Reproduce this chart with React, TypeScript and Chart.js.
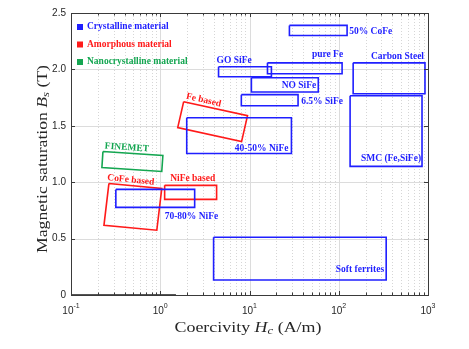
import React, { useEffect, useRef } from "react";
import { Chart, registerables } from "chart.js";
Chart.register(...registerables);

// ---- axis ticks ----
const xTickValues = [0.1, 1, 10, 100, 1000];
const xTickExponents = ["-1", "0", "1", "2", "3"];
const yTickValues = [0, 0.5, 1, 1.5, 2, 2.5];

// ---- legend ----
const legendLabels = ["Crystalline material", "Amorphous material", "Nanocrystalline material"];
const groupColors = ["#1f1fff", "#ff1a1a", "#14a651"];

// ---- regions: coercivity Hc (A/m) and saturation Bs (T) corners ----
// Crystalline
const coFe50Hc = [28, 124, 124, 28];
const coFe50Bs = [2.39, 2.39, 2.3, 2.3];
const goSiFeHc = [4.5, 17.6, 17.6, 4.5];
const goSiFeBs = [2.023, 2.023, 1.935, 1.935];
const pureFeHc = [15.9, 109, 109, 15.9];
const pureFeBs = [2.058, 2.058, 1.961, 1.961];
const carbonSteelHc = [145, 925, 925, 145];
const carbonSteelBs = [2.058, 2.058, 1.784, 1.784];
const noSiFeHc = [10.5, 59, 59, 10.5];
const noSiFeBs = [1.926, 1.926, 1.8, 1.8];
const siFe65Hc = [8.1, 35, 35, 8.1];
const siFe65Bs = [1.776, 1.776, 1.678, 1.678];
const smcHc = [134, 857, 857, 134];
const smcBs = [1.767, 1.767, 1.14, 1.14];
const niFe4050Hc = [1.98, 29.5, 29.5, 1.98];
const niFe4050Bs = [1.572, 1.572, 1.254, 1.254];
const niFe7080Hc = [0.318, 2.43, 2.43, 0.318];
const niFe7080Bs = [0.936, 0.936, 0.777, 0.777];
const softFerritesHc = [3.96, 340, 340, 3.96];
const softFerritesBs = [0.512, 0.512, 0.133, 0.133];
// Amorphous
const feBasedHc = [1.83, 9.5, 8.15, 1.57];
const feBasedBs = [1.714, 1.59, 1.36, 1.484];
const coFeBasedHc = [0.266, 1.04, 0.915, 0.234];
const coFeBasedBs = [0.989, 0.945, 0.574, 0.618];
const niFeBasedHc = [1.12, 4.28, 4.28, 1.12];
const niFeBasedBs = [0.972, 0.972, 0.848, 0.848];
// Nanocrystalline
const finemetHc = [0.228, 1.07, 1.04, 0.222];
const finemetBs = [1.272, 1.237, 1.095, 1.131];
// dark baseline segment along the bottom axis
const baselineHc = [0.1, 1.5];
const baselineBs = [0, 0];

const regions = [
  { hc: coFe50Hc, bs: coFe50Bs, group: 0 },
  { hc: goSiFeHc, bs: goSiFeBs, group: 0 },
  { hc: pureFeHc, bs: pureFeBs, group: 0 },
  { hc: carbonSteelHc, bs: carbonSteelBs, group: 0 },
  { hc: noSiFeHc, bs: noSiFeBs, group: 0 },
  { hc: siFe65Hc, bs: siFe65Bs, group: 0 },
  { hc: smcHc, bs: smcBs, group: 0 },
  { hc: niFe4050Hc, bs: niFe4050Bs, group: 0 },
  { hc: niFe7080Hc, bs: niFe7080Bs, group: 0 },
  { hc: softFerritesHc, bs: softFerritesBs, group: 0 },
  { hc: feBasedHc, bs: feBasedBs, group: 1 },
  { hc: coFeBasedHc, bs: coFeBasedBs, group: 1 },
  { hc: niFeBasedHc, bs: niFeBasedBs, group: 1 },
  { hc: finemetHc, bs: finemetBs, group: 2 },
];

// ---- region labels ----
const labelTexts = ["50% CoFe", "GO SiFe", "pure Fe", "Carbon Steel", "NO SiFe", "6.5% SiFe", "SMC (Fe,SiFe)", "40-50% NiFe", "70-80% NiFe", "Soft ferrites", "Fe based", "CoFe based", "NiFe based", "FINEMET"];
const labelHc = [131, 4.28, 112, 902, 56, 38, 836, 27.3, 1.12, 322, 3.06, 0.468, 2.31, 0.423];
const labelBs = [2.332, 2.076, 2.129, 2.111, 1.855, 1.714, 1.21, 1.299, 0.698, 0.23, 1.727, 1.02, 1.034, 1.307];
const labelAlign = ["left", "left", "right", "right", "right", "left", "right", "right", "left", "right", "center", "center", "center", "center"];
const labelAngle = [0, 0, 0, 0, 0, 0, 0, 0, 0, 0, 13, 6, 0, 4];
const labelGroup = [0, 0, 0, 0, 0, 0, 0, 0, 0, 0, 1, 1, 1, 2];

const SERIF = "'Liberation Serif', 'Times New Roman', serif";
const SANS = "'Liberation Sans', Arial, sans-serif";
const AXIS = "#262626";

function drawRich(ctx: CanvasRenderingContext2D, segs: any[], cx: number, cy: number, targetW: number, rotate: boolean) {
  ctx.save();
  ctx.translate(cx, cy);
  if (rotate) ctx.rotate(-Math.PI / 2);
  let w = 0;
  for (const s of segs) { ctx.font = s.font; w += ctx.measureText(s.t).width; }
  ctx.scale(targetW / w, 1);
  let x = -w / 2;
  ctx.textBaseline = "middle";
  ctx.textAlign = "left";
  ctx.fillStyle = AXIS;
  for (const s of segs) { ctx.font = s.font; ctx.fillText(s.t, x, s.dy || 0); x += ctx.measureText(s.t).width; }
  ctx.restore();
}

const customPlugin = {
  id: "custom",
  beforeDatasetsDraw(chart: any) {
    const ctx = chart.ctx as CanvasRenderingContext2D;
    const { left, right, top, bottom } = chart.chartArea;
    const xs = chart.scales.x, ys = chart.scales.y;
    ctx.save();
    ctx.fillStyle = "#ffffff";
    ctx.fillRect(left, top, right - left, bottom - top);
    // minor vertical dotted
    ctx.strokeStyle = "#d6d6d6";
    ctx.lineWidth = 1;
    ctx.setLineDash([1, 2]);
    for (let e = -1; e < 3; e++) {
      for (let k = 2; k <= 9; k++) {
        const px = Math.round(xs.getPixelForValue(k * Math.pow(10, e))) + 0.5;
        ctx.beginPath(); ctx.moveTo(px, top); ctx.lineTo(px, bottom); ctx.stroke();
      }
    }
    ctx.setLineDash([]);
    ctx.strokeStyle = "#dcdcdc";
    for (const v of xTickValues.slice(1, -1)) {
      const px = Math.round(xs.getPixelForValue(v)) + 0.5;
      ctx.beginPath(); ctx.moveTo(px, top); ctx.lineTo(px, bottom); ctx.stroke();
    }
    for (const v of yTickValues.slice(1, -1)) {
      const py = Math.round(ys.getPixelForValue(v)) + 0.5;
      ctx.beginPath(); ctx.moveTo(left, py); ctx.lineTo(right, py); ctx.stroke();
    }
    ctx.restore();
  },
  afterDatasetsDraw(chart: any) {
    const ctx = chart.ctx as CanvasRenderingContext2D;
    const { left, right, top, bottom } = chart.chartArea;
    const xs = chart.scales.x, ys = chart.scales.y;
    ctx.save();
    // box
    ctx.strokeStyle = "#3a3a3a";
    ctx.lineWidth = 1;
    ctx.strokeRect(Math.round(left) + 0.5, Math.round(top) + 0.5, Math.round(right - left), Math.round(bottom - top));
    // inward ticks
    for (let e = -1; e < 3; e++) {
      for (let k = 1; k <= 9; k++) {
        const v = k * Math.pow(10, e);
        const px = Math.round(xs.getPixelForValue(v)) + 0.5;
        const len = k === 1 ? 4 : 2.5;
        ctx.beginPath(); ctx.moveTo(px, bottom); ctx.lineTo(px, bottom - len); ctx.stroke();
        ctx.beginPath(); ctx.moveTo(px, top); ctx.lineTo(px, top + len); ctx.stroke();
      }
    }
    for (const v of yTickValues) {
      const py = Math.round(ys.getPixelForValue(v)) + 0.5;
      ctx.beginPath(); ctx.moveTo(left, py); ctx.lineTo(left + 4, py); ctx.stroke();
      ctx.beginPath(); ctx.moveTo(right, py); ctx.lineTo(right - 4, py); ctx.stroke();
    }
    // x tick labels 10^n
    ctx.fillStyle = AXIS;
    ctx.textBaseline = "alphabetic";
    xTickValues.forEach((v, i) => {
      const px = xs.getPixelForValue(v);
      ctx.font = `10px ${SANS}`;
      const wb = ctx.measureText("10").width;
      ctx.font = `7px ${SANS}`;
      const we = ctx.measureText(xTickExponents[i]).width;
      const x0 = px - (wb + we) / 2;
      ctx.textAlign = "left";
      ctx.font = `10px ${SANS}`;
      ctx.fillText("10", x0, bottom + 19);
      ctx.font = `7px ${SANS}`;
      ctx.fillText(xTickExponents[i], x0 + wb, bottom + 13);
    });
    // region labels
    labelTexts.forEach((t, i) => {
      const px = xs.getPixelForValue(labelHc[i]);
      const py = ys.getPixelForValue(labelBs[i]);
      ctx.save();
      ctx.translate(px, py);
      ctx.rotate((labelAngle[i] * Math.PI) / 180);
      ctx.font = `bold 9.5px ${SERIF}`;
      ctx.fillStyle = groupColors[labelGroup[i]];
      ctx.textAlign = labelAlign[i] as CanvasTextAlign;
      ctx.textBaseline = "middle";
      ctx.fillText(t, 0, 0);
      ctx.restore();
    });
    // legend
    legendLabels.forEach((t, i) => {
      const cy = top + 14 + i * 17.5;
      ctx.fillStyle = groupColors[i];
      ctx.fillRect(left + 6, cy - 3, 6, 6);
      ctx.font = `bold 9.5px ${SERIF}`;
      ctx.textAlign = "left";
      ctx.textBaseline = "middle";
      ctx.fillText(t, left + 16, cy);
    });
    // axis titles
    drawRich(ctx, [
      { t: "Coercivity ", font: `14px ${SERIF}` },
      { t: "H", font: `italic 14px ${SERIF}` },
      { t: "c", font: `italic 10px ${SERIF}`, dy: 3 },
      { t: " (A/m)", font: `14px ${SERIF}` },
    ], 248, 328, 147, false);
    drawRich(ctx, [
      { t: "Magnetic saturation ", font: `14px ${SERIF}` },
      { t: "B", font: `italic 14px ${SERIF}` },
      { t: "s", font: `italic 10px ${SERIF}`, dy: 3 },
      { t: " (T)", font: `14px ${SERIF}` },
    ], 43, 159, 188, true);
    ctx.restore();
  },
};

export default function App() {
  const ref = useRef<HTMLCanvasElement>(null);
  useEffect(() => {
    if (!ref.current) return;
    const datasets: any[] = regions.map((r) => ({
      data: r.hc.concat([r.hc[0]]).map((x, i) => ({ x, y: r.bs.concat([r.bs[0]])[i] })),
      showLine: true,
      borderColor: groupColors[r.group],
      borderWidth: 1.6,
      pointRadius: 0,
      fill: false,
      tension: 0,
    }));
    datasets.push({
      data: baselineHc.map((x, i) => ({ x, y: baselineBs[i] })),
      showLine: true,
      borderColor: "#555555",
      borderWidth: 2,
      pointRadius: 0,
      fill: false,
      clip: 4,
    });
    const chart = new Chart(ref.current, {
      type: "scatter",
      data: { datasets },
      options: {
        animation: false,
        responsive: false,
        devicePixelRatio: 1,
        layout: { padding: { top: 13, right: 41, left: 0, bottom: 0 } },
        plugins: { legend: { display: false }, tooltip: { enabled: false } },
        scales: {
          x: {
            type: "logarithmic",
            min: 0.1,
            max: 1000,
            grid: { display: false },
            border: { display: false },
            ticks: { display: false },
            afterFit: (s: any) => { s.height = 54; },
          },
          y: {
            min: 0,
            max: 2.5,
            grid: { display: false, drawTicks: false },
            border: { display: false },
            ticks: {
              stepSize: 0.5,
              padding: 5,
              color: AXIS,
              font: { family: "'Liberation Sans', Arial, sans-serif", size: 10 },
            },
            afterFit: (s: any) => { s.width = 71; },
          },
        },
      } as any,
      plugins: [customPlugin],
    });
    return () => chart.destroy();
  }, []);
  return (
    <div style={{ position: "absolute", left: 0, top: 0, width: 469, height: 349, background: "#fff" }}>
      <canvas ref={ref} width={469} height={349} />
    </div>
  );
}
